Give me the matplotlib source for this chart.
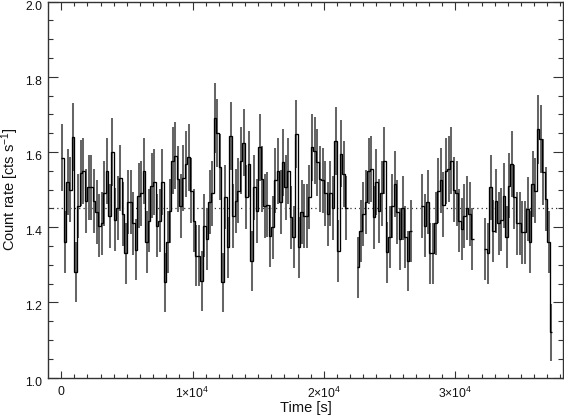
import numpy as np
import matplotlib
matplotlib.use("Agg")
import matplotlib.pyplot as plt
import matplotlib.transforms as mtransforms

plt.rcParams['font.family'] = ['Liberation Sans', 'DejaVu Sans']
plt.rcParams['mathtext.fontset'] = 'custom'
plt.rcParams['mathtext.rm'] = 'Liberation Sans'
plt.rcParams['mathtext.it'] = 'Liberation Sans'

# ---- data: count rate light curve, 200 s bins, four good-time intervals ----
bin_size = 200.0
segment_starts = [0.0, 22500.0, 27400.0, 32200.0]

rate_seg1 = [1.585, 1.36, 1.52, 1.50, 1.64, 1.28, 1.457, 1.545, 1.55, 1.47,
             1.506, 1.506, 1.47, 1.44, 1.404, 1.41, 1.49, 1.55, 1.43, 1.60,
             1.42, 1.45, 1.53, 1.435, 1.33, 1.466, 1.466, 1.41, 1.34, 1.484,
             1.49, 1.55, 1.36, 1.417, 1.51, 1.52, 1.404, 1.417, 1.52, 1.253,
             1.36, 1.444, 1.577, 1.59, 1.528, 1.457, 1.53, 1.568, 1.586, 1.497,
             1.417, 1.324, 1.324, 1.257, 1.404, 1.368, 1.466, 1.49, 1.69, 1.65,
             1.56, 1.253, 1.48, 1.346, 1.643, 1.43, 1.47, 1.497, 1.577, 1.625,
             1.48, 1.568, 1.31, 1.506, 1.444, 1.612, 1.528, 1.457, 1.46, 1.377,
             1.40, 1.524, 1.55, 1.466, 1.572, 1.506, 1.55, 1.426, 1.373, 1.648,
             1.346, 1.44, 1.43, 1.43, 1.48, 1.612, 1.603, 1.572, 1.528, 1.524,
             1.49, 1.435, 1.49, 1.452, 1.63, 1.337, 1.595, 1.54, 1.45]
rate_seg2 = [1.293, 1.39, 1.435, 1.466, 1.55, 1.555, 1.426, 1.52, 1.444, 1.49,
             1.577, 1.333, 1.373, 1.457, 1.515, 1.44, 1.368, 1.452, 1.373, 1.31,
             1.39]
rate_seg3 = [1.457, 1.404, 1.466, 1.33, 1.33, 1.41, 1.497, 1.524, 1.46, 1.55,
             1.555, 1.577, 1.50, 1.49, 1.417, 1.395, 1.43, 1.452, 1.435, 1.368]
rate_seg4 = [1.342, 1.33, 1.506, 1.39, 1.47, 1.41, 1.42, 1.484, 1.373, 1.51,
             1.568, 1.48, 1.41, 1.41, 1.386, 1.386, 1.448, 1.36, 1.515, 1.497,
             1.66, 1.634, 1.546, 1.475, 1.36, 1.12]
segments = [rate_seg1, rate_seg2, rate_seg3, rate_seg4]
mean_rate = 1.45

x_ticks = [0, 10000, 20000, 30000]
x_tick_labels = ['0', r'$1{\times}10^{4}$', r'$2{\times}10^{4}$', r'$3{\times}10^{4}$']
y_ticks = [1.0, 1.2, 1.4, 1.6, 1.8, 2.0]
y_tick_labels = ['1.0', '1.2', '1.4', '1.6', '1.8', '2.0']

# ---- figure ----
W, H = 564, 416
fig = plt.figure(figsize=(W / 100, H / 100), dpi=100)
ax = fig.add_axes([48 / W, (H - 377.5) / H, 515 / W, 376 / H])

err_color = '#666666'
for start, rates in zip(segment_starts, segments):
    rates = np.array(rates)
    edges = start + bin_size * np.arange(len(rates) + 1)
    centers = 0.5 * (edges[:-1] + edges[1:])
    errs = np.sqrt(rates * bin_size) / bin_size   # Poisson error of the counts
    ax.vlines(centers, rates - errs, rates + errs, color=err_color, lw=1.45, zorder=2)
    ax.stairs(rates, edges, color='#000000', lw=0.95, zorder=3, baseline=None)

ax.axhline(mean_rate, color='#333333', lw=0.9, ls=(0, (1, 2.5)), zorder=1)

ax.set_xlim(-1000, 38200)
ax.set_ylim(1.0, 2.0)
ax.set_xticks(x_ticks)
ax.set_xticklabels(x_tick_labels)
ax.set_xticks(np.arange(0, 38001, 1000), minor=True)
ax.set_yticks(y_ticks)
ax.set_yticklabels(y_tick_labels)
ax.set_yticks(np.arange(1.0, 2.001, 0.05), minor=True)

frame_color = '#333333'
for s in ax.spines.values():
    s.set_color(frame_color)
    s.set_linewidth(1.0)

ax.tick_params(axis='x', which='major', direction='in', length=5.4, width=0.8,
               top=True, bottom=True, colors=frame_color, labelcolor='#111111',
               labelsize=8.8, pad=6)
ax.tick_params(axis='x', which='minor', direction='in', length=2.7, width=0.8,
               top=True, bottom=True, colors=frame_color)
ax.tick_params(axis='y', which='major', direction='in', length=7.4, width=0.8,
               left=True, right=True, colors=frame_color, labelcolor='#111111',
               labelsize=8.8, pad=4)
ax.tick_params(axis='y', which='minor', direction='in', length=3.7, width=0.8,
               left=True, right=True, colors=frame_color)

# y tick labels sit slightly below their ticks, as in the reference
shift = mtransforms.ScaledTranslation(0, -3.5 / 100, fig.dpi_scale_trans)
for lab in ax.get_yticklabels():
    lab.set_transform(lab.get_transform() + shift)

ax.set_xlabel('Time [s]', fontsize=10.5, color='#111111', labelpad=0)
ax.set_ylabel(r'Count rate [cts s$^{-1}$]', fontsize=10.5, color='#111111', labelpad=3)

fig.savefig('out.png', dpi=100)
